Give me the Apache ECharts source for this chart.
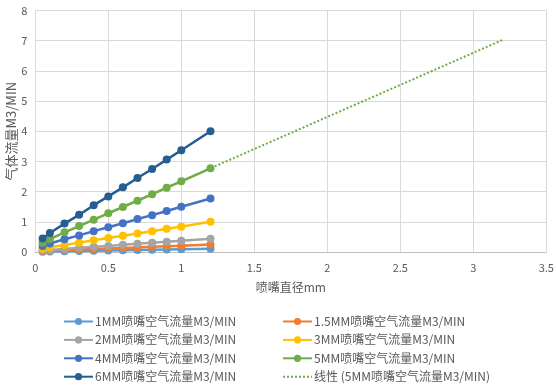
<!DOCTYPE html>
<html><head><meta charset="utf-8">
<script src="https://cdn.jsdelivr.net/npm/echarts@6/dist/echarts.min.js"></script>
<style>html,body{margin:0;padding:0;background:#fff}#c{width:556px;height:392px}</style>
</head><body><div id="c"></div>
<script>
const xValues = [0.05, 0.1, 0.2, 0.3, 0.4, 0.5, 0.6, 0.7, 0.8, 0.9, 1.0, 1.2];
const seriesNames = ['1MM喷嘴空气流量M3/MIN','1.5MM喷嘴空气流量M3/MIN','2MM喷嘴空气流量M3/MIN','3MM喷嘴空气流量M3/MIN','4MM喷嘴空气流量M3/MIN','5MM喷嘴空气流量M3/MIN','6MM喷嘴空气流量M3/MIN'];
const flow1 = [0.012, 0.017, 0.026, 0.035, 0.043, 0.051, 0.06, 0.068, 0.077, 0.086, 0.094, 0.11];
const flow15 = [0.03, 0.04, 0.06, 0.08, 0.10, 0.115, 0.13, 0.15, 0.17, 0.19, 0.21, 0.25];
const flow2 = [0.05, 0.07, 0.10, 0.14, 0.17, 0.20, 0.24, 0.27, 0.31, 0.34, 0.37, 0.44];
const flow3 = [0.11, 0.16, 0.235, 0.31, 0.39, 0.46, 0.54, 0.61, 0.69, 0.77, 0.84, 1.0];
const flow4 = [0.20, 0.28, 0.42, 0.55, 0.69, 0.82, 0.95, 1.09, 1.22, 1.36, 1.50, 1.77];
const flow5 = [0.31, 0.43, 0.65, 0.86, 1.07, 1.28, 1.49, 1.70, 1.91, 2.13, 2.34, 2.77];
const flow6 = [0.45, 0.63, 0.94, 1.23, 1.55, 1.84, 2.14, 2.45, 2.75, 3.06, 3.37, 4.0];
const trendName = '线性 (5MM喷嘴空气流量M3/MIN)';
const trendX = [0.05, 3.2];
const trendY = [0.33, 7.02];
const xTicks = [0, 0.5, 1, 1.5, 2, 2.5, 3, 3.5];
const yTicks = [0, 1, 2, 3, 4, 5, 6, 7, 8];

const allFlows = [flow1, flow15, flow2, flow3, flow4, flow5, flow6];
const colors = ['#5B9BD5','#ED7D31','#A5A5A5','#FFC000','#4472C4','#70AD47','#255E91'];
const font = '"Noto Sans CJK SC", "Noto Sans", sans-serif';
const txt = '#595959';

const series = allFlows.map((vals, i) => ({
  name: seriesNames[i], type: 'line',
  data: vals.map((v, j) => [xValues[j], v]),
  symbol: 'circle', symbolSize: 8,
  lineStyle: {width: 2.5, color: colors[i]},
  itemStyle: {color: colors[i]},
  z: 3 + i, animation: false
}));
series.splice(6, 0, {
  name: trendName, type: 'line',
  data: trendX.map((x, j) => [x, trendY[j]]),
  symbol: 'none', showSymbol: false,
  lineStyle: {width: 2, type: [2, 2], color: '#70AD47'},
  itemStyle: {color: '#70AD47'},
  z: 2, animation: false
});

const legendOrder = [
  [seriesNames[0], seriesNames[2], seriesNames[4], seriesNames[6]],
  [seriesNames[1], seriesNames[3], seriesNames[5], trendName]
];
const legends = [];
legendOrder.forEach((col, ci) => {
  col.forEach((nm, ri) => {
    const item = nm === trendName ? {name: nm, itemStyle: {opacity: 0}} : {name: nm};
    legends.push({
      data: [item], left: ci === 0 ? 63 : 282, top: 315.5 + ri * 18.4,
      padding: 0,
      itemWidth: 29, itemHeight: 9, itemGap: 2,
      textStyle: {color: txt, fontFamily: font, fontSize: 12, padding: [0,0,0,-3]},
      selectedMode: false
    });
  });
});

const chart = echarts.init(document.getElementById('c'), null, {renderer: 'canvas'});
chart.setOption({
  animation: false,
  backgroundColor: '#fff',
  grid: {left: 35.3, right: 9.7, top: 10.4, bottom: 140, outerBoundsMode: 'none'},
  legend: legends,
  xAxis: {
    type: 'value', min: 0, max: 3.5, interval: 0.5,
    name: '喷嘴直径mm', nameLocation: 'middle', nameGap: 29, nameMoveOverlap: false,
    nameTextStyle: {color: txt, fontFamily: font, fontSize: 12},
    axisLine: {show: true, lineStyle: {color: '#BFBFBF', width: 1}},
    axisTick: {show: false},
    axisLabel: {color: txt, fontFamily: font, fontSize: 11, margin: 10,
      formatter: v => xTicks.includes(v) ? String(v) : ''},
    splitLine: {show: true, lineStyle: {color: '#D9D9D9', width: 1}}
  },
  yAxis: {
    type: 'value', min: 0, max: 8, interval: 1,
    name: '气体流量M3/MIN', nameLocation: 'middle', nameGap: 18, nameRotate: 90,
    nameMoveOverlap: false,
    nameTextStyle: {color: txt, fontFamily: font, fontSize: 13},
    axisLine: {show: false}, axisTick: {show: false},
    axisLabel: {color: txt, fontFamily: font, fontSize: 11, margin: 8,
      formatter: v => yTicks.includes(v) ? String(v) : ''},
    splitLine: {show: true, lineStyle: {color: '#D9D9D9', width: 1}}
  },
  series: series
});
</script></body></html>
